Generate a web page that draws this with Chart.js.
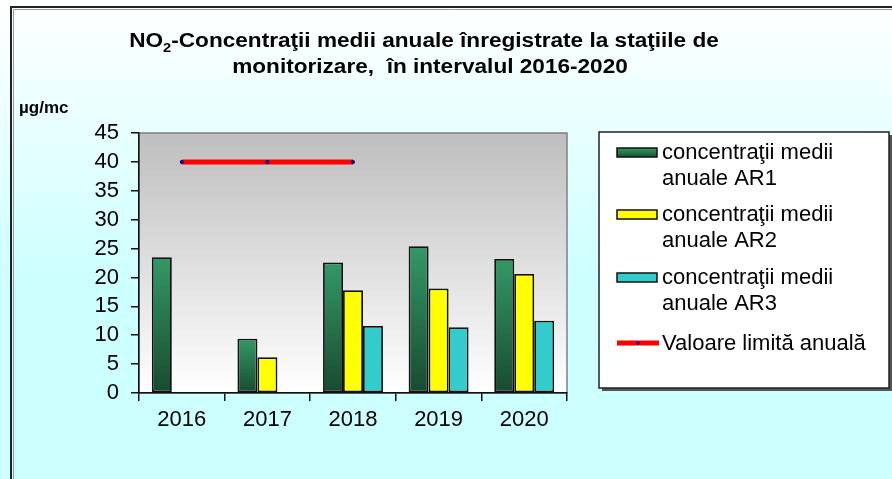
<!DOCTYPE html>
<html>
<head>
<meta charset="utf-8">
<script src="https://cdn.jsdelivr.net/npm/chart.js@4/dist/chart.umd.min.js"></script>
<style>
  html, body { margin: 0; padding: 0; background: #fff; }
  #wrap { width: 892px; height: 479px; position: relative; }
</style>
</head>
<body>
<div id="wrap"><canvas id="chart" width="892" height="479"></canvas></div>
<script>
const years = ['2016', '2017', '2018', '2019', '2020'];
const ar1 = [23.5, 9.4, 22.6, 25.4, 23.2];
const ar2 = [null, 6.2, 17.8, 18.1, 20.6];
const ar3 = [null, null, 11.6, 11.4, 12.5];
const limita = [40, 40, 40, null, null];
const yTicks = [0, 5, 10, 15, 20, 25, 30, 35, 40, 45];

const seriesNames = [
    ['concentraţii medii', 'anuale AR1'],
    ['concentraţii medii', 'anuale AR2'],
    ['concentraţii medii', 'anuale AR3'],
    ['Valoare limită anuală']
];
const titleLine1 = '-Concentraţii medii anuale înregistrate la staţiile de';
const titleLine2 = 'monitorizare,  în intervalul 2016-2020';
const unitLabel = 'µg/mc';

const font = 'Liberation Sans, Arial, sans-serif';

function greenGradient(ctx) {
    let chart = ctx.chart;
    if (!chart.chartArea || ctx.type !== 'data' || !ctx.parsed) return '#2e8b57';
    let y = chart.scales.y;
    let top = y.getPixelForValue(ctx.parsed.y);
    let bottom = y.getPixelForValue(0);
    if (!isFinite(top) || bottom - top < 1) return '#2e8b57';
    let g = chart.ctx.createLinearGradient(0, top, 0, bottom);
    g.addColorStop(0, '#339966');
    g.addColorStop(1, '#184a30');
    return g;
}

// background, frame, plot area, title, unit label
const decorPlugin = {
    id: 'decor',
    beforeDraw(chart) {
        let c = chart.ctx;
        let a = chart.chartArea;
        c.save();
        let bg = c.createLinearGradient(0, 0, 0, chart.height);
        bg.addColorStop(0, '#ffffff');
        bg.addColorStop(0.6, '#ccffff');
        bg.addColorStop(1, '#ccffff');
        c.fillStyle = bg;
        c.fillRect(0, 0, chart.width, chart.height);

        // outer frame
        c.strokeStyle = '#222';
        c.lineWidth = 2;
        c.beginPath();
        c.moveTo(11, chart.height);
        c.lineTo(11, 7);
        c.lineTo(chart.width, 7);
        c.stroke();
        c.strokeStyle = '#999';
        c.lineWidth = 1;
        c.beginPath();
        c.moveTo(13.5, chart.height);
        c.lineTo(13.5, 9.5);
        c.lineTo(chart.width, 9.5);
        c.stroke();

        // plot area
        let pg = c.createLinearGradient(0, a.top, 0, a.bottom);
        pg.addColorStop(0, '#bebebe');
        pg.addColorStop(1, '#ffffff');
        c.fillStyle = pg;
        c.fillRect(a.left, a.top, a.right - a.left, a.bottom - a.top);
        c.strokeStyle = '#808080';
        c.lineWidth = 1.5;
        c.strokeRect(a.left, a.top, a.right - a.left, a.bottom - a.top);

        // title, slightly stretched horizontally like the original
        c.fillStyle = '#000';
        c.textBaseline = 'alphabetic';
        let sx = 1.13;
        let big = 'bold 20px ' + font;
        let small = 'bold 13px ' + font;
        let parts = [['NO', big, 0], ['2', small, 5], [titleLine1, big, 0]];
        let total = 0;
        for (let p of parts) { c.font = p[1]; total += c.measureText(p[0]).width; }
        c.save();
        c.scale(sx, 1);
        let x = 424 / sx - total / 2;
        for (let p of parts) {
            c.font = p[1];
            c.fillText(p[0], x, 47 + p[2]);
            x += c.measureText(p[0]).width;
        }
        c.font = big;
        c.textAlign = 'center';
        c.fillText(titleLine2, 430 / sx, 73);
        c.restore();

        c.textAlign = 'left';
        c.font = 'bold 17px ' + font;
        c.fillText(unitLabel, 19, 113);
        c.restore();
    }
};

// boxed legend on the right
const legendPlugin = {
    id: 'boxLegend',
    afterDraw(chart) {
        let c = chart.ctx;
        c.save();
        let bx = 599, by = 132, bw = 290, bh = 256;
        c.fillStyle = '#555';
        c.fillRect(bx + 3, by + 3, bw, bh);
        c.fillStyle = '#fff';
        c.fillRect(bx, by, bw, bh);
        c.strokeStyle = '#222';
        c.lineWidth = 1.5;
        c.strokeRect(bx, by, bw, bh);

        c.font = '22px ' + font;
        c.textBaseline = 'middle';
        let rows = [152, 214, 277, 343];
        chart.data.datasets.forEach((ds, i) => {
            let y = rows[i];
            if (ds.type === 'line') {
                c.strokeStyle = ds.borderColor;
                c.lineWidth = 5;
                c.beginPath();
                c.moveTo(617, y);
                c.lineTo(659, y);
                c.stroke();
                c.fillStyle = ds.pointBackgroundColor;
                c.beginPath();
                c.arc(638, y, 1.8, 0, Math.PI * 2);
                c.fill();
            } else {
                if (typeof ds.backgroundColor === 'function') {
                    let g = c.createLinearGradient(0, y - 4, 0, y + 4);
                    g.addColorStop(0, '#339966');
                    g.addColorStop(1, '#1e5a3a');
                    c.fillStyle = g;
                } else {
                    c.fillStyle = ds.backgroundColor;
                }
                c.fillRect(617, y - 4, 40, 9);
                c.strokeStyle = '#111';
                c.lineWidth = 1.5;
                c.strokeRect(617, y - 4, 40, 9);
            }
            c.fillStyle = '#000';
            ds.label.forEach((line, k) => c.fillText(line, 662, y + 1 + k * 26));
        });
        c.restore();
    }
};

const barStyle = { borderColor: '#111', borderWidth: 1.8, borderSkipped: false, categoryPercentage: 0.7, barPercentage: 1, order: 1 };

new Chart(document.getElementById('chart'), {
    type: 'bar',
    data: {
        labels: years,
        datasets: [
            Object.assign({ label: seriesNames[0], data: ar1, backgroundColor: greenGradient }, barStyle),
            Object.assign({ label: seriesNames[1], data: ar2, backgroundColor: '#ffff00' }, barStyle),
            Object.assign({ label: seriesNames[2], data: ar3, backgroundColor: '#33cccc' }, barStyle),
            { type: 'line', label: seriesNames[3], data: limita, borderColor: '#ff0000', borderWidth: 5,
              pointRadius: 2, pointHoverRadius: 2, pointBackgroundColor: '#000080', pointBorderWidth: 0,
              spanGaps: false, order: 0 }
        ]
    },
    options: {
        responsive: false,
        animation: false,
        events: [],
        layout: { padding: { left: 70, right: 325, top: 133, bottom: 46 } },
        plugins: { legend: { display: false }, title: { display: false }, tooltip: { enabled: false } },
        scales: {
            x: {
                afterFit: s => { s.height = 40; },
                grid: { display: true, drawOnChartArea: false, drawTicks: true, tickLength: 8, color: '#111', lineWidth: 1.5, offset: true },
                border: { display: true, color: '#111', width: 1.5 },
                ticks: { color: '#000', font: { family: font, size: 22 }, padding: 6, autoSkip: false, maxRotation: 0 }
            },
            y: {
                min: 0, max: 45,
                afterFit: s => { s.width = 69; },
                afterBuildTicks: s => { s.ticks = yTicks.map(v => ({ value: v })); },
                grid: { display: true, drawOnChartArea: false, drawTicks: true, tickLength: 8, color: '#111', lineWidth: 1.5 },
                border: { display: true, color: '#111', width: 1.5 },
                ticks: { color: '#000', font: { family: font, size: 22 }, padding: 12, autoSkip: false }
            }
        }
    },
    plugins: [decorPlugin, legendPlugin]
});
</script>
</body>
</html>
